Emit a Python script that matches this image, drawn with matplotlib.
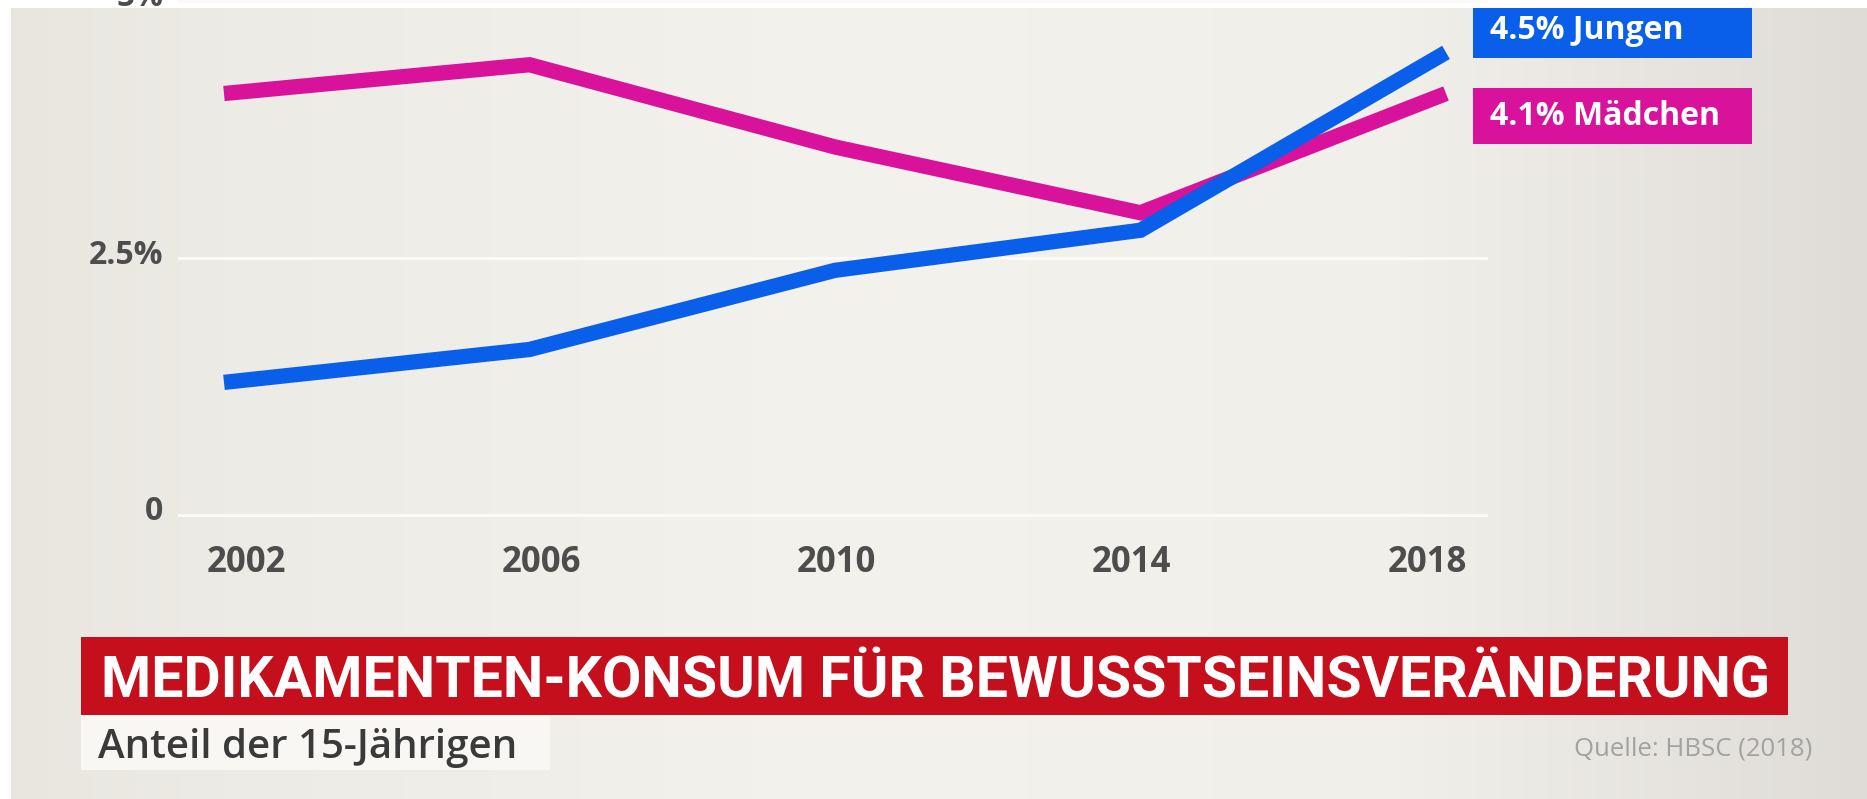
import numpy as np
import matplotlib.pyplot as plt
from matplotlib.patches import Rectangle
from matplotlib.transforms import ScaledTranslation

# Data (share of 15-year-olds, %)
years = [2002, 2006, 2010, 2014, 2018]
jungen = [1.29, 1.61, 2.38, 2.77, 4.5]
maedchen = [4.1, 4.38, 3.58, 2.94, 4.1]
yticks = [0, 2.5, 5]
ytick_labels = ["0", "2.5%", "5%"]

title = "MEDIKAMENTEN-KONSUM FÜR BEWUSSTSEINSVERÄNDERUNG"
subtitle = "Anteil der 15-Jährigen"
source = "Quelle: HBSC (2018)"

blue = "#0a5fea"
pink = "#d8129a"
red = "#c50f1c"

plt.rcParams['font.family'] = ['Open Sans', 'DejaVu Sans']

W, H = 1867, 799
fig = plt.figure(figsize=(W / 100, H / 100), dpi=100)


def fx(px):
    return px / W


def fy(py):
    return 1 - py / H


def add_rect(x0, y0, x1, y1, color, z):
    r = Rectangle((fx(x0), fy(y1)), (x1 - x0) / W, (y1 - y0) / H,
                  transform=fig.transFigure, color=color, zorder=z, lw=0)
    fig.add_artist(r)


# background gradient
bg = fig.add_axes([0, 0, 1, 1], zorder=-1)
xs = np.linspace(0, 1, 400)
stops = [0.0, 0.12, 0.45, 0.75, 1.0]
cols = np.array([[233, 230, 224], [237, 235, 229], [244, 242, 237],
                 [241, 239, 234], [223, 220, 215]]) / 255
grad = np.stack([np.interp(xs, stops, cols[:, i]) for i in range(3)], axis=-1)
grad = np.tile(grad[None, :, :], (50, 1, 1))
bg.imshow(grad, aspect='auto', extent=[0, 1, 0, 1])
bg.axis('off')

# white frame on top / left edge
add_rect(0, 0, W, 8, "white", -0.5)
add_rect(0, 0, 11, H, "white", -0.5)

# main chart
x_px = (178, 1488)
y0_px, ppu = 515, 102.8
ymin, ymax = -0.25, 5.01
ax = fig.add_axes([fx(x_px[0]), fy(y0_px + (-ymin) * ppu),
                   (x_px[1] - x_px[0]) / W, (ymax - ymin) * ppu / H], zorder=0)
ax.patch.set_alpha(0)
ax.set_xlim(2001.398, 2018.55)
ax.set_ylim(ymin, ymax)

ax.plot(years, maedchen, color=pink, lw=11, solid_capstyle='butt',
        solid_joinstyle='miter', zorder=3, clip_on=False)
ax.plot(years, jungen, color=blue, lw=11, solid_capstyle='butt',
        solid_joinstyle='miter', zorder=4, clip_on=False)

ax.set_yticks(yticks)
ax.set_yticklabels(ytick_labels)
ax.grid(axis='y', color='#fbfaf7', lw=2.2)
ax.set_axisbelow(True)
for s in ax.spines.values():
    s.set_visible(False)
ax.tick_params(axis='y', length=0, pad=10.8, labelsize=23, labelcolor='#4d4d4d')
for lbl in ax.get_yticklabels():
    lbl.set_fontweight('bold')
    lbl.set_transform(lbl.get_transform() + ScaledTranslation(0, 0.07, fig.dpi_scale_trans))
ax.set_xticks([])

# year labels (slightly tighter spacing than the lines)
ax2 = ax.twiny()
ax2.set_xlim(2001.079, 2018.826)
ax2.xaxis.set_ticks_position('bottom')
ax2.set_xticks(years)
ax2.set_xticklabels([str(y) for y in years], fontweight='bold')
ax2.tick_params(axis='x', length=0, pad=3, labelsize=25, labelcolor='#4d4d4d')
for s in ax2.spines.values():
    s.set_visible(False)

# end labels
add_rect(1473, 2, 1752, 58, blue, -0.8)
add_rect(1473, 88, 1752, 144, pink, -0.8)
fig.text(fx(1490), fy(39), f"{jungen[-1]}% Jungen", color='white',
         fontsize=23, fontweight='bold', va='baseline', ha='left')
fig.text(fx(1490), fy(125), f"{maedchen[-1]}% Mädchen", color='white',
         fontsize=23, fontweight='bold', va='baseline', ha='left')

# title bar
add_rect(81, 637, 1788, 715, red, 1)
fig.text(fx(101), fy(698), title, color='white', fontsize=41.2, fontweight='bold',
         family=['Roboto', 'DejaVu Sans'], va='baseline', ha='left', zorder=2)
add_rect(81, 715, 550, 770, '#f8f7f4', 1)
fig.text(fx(98), fy(758), subtitle, color='#3a3a3a', fontsize=29,
         fontweight='semibold', va='baseline', ha='left', zorder=2)
fig.text(fx(1812), fy(756), source, color='#a2a2a2', fontsize=18.5,
         va='baseline', ha='right', zorder=2)

fig.savefig("out.png", dpi=100)
